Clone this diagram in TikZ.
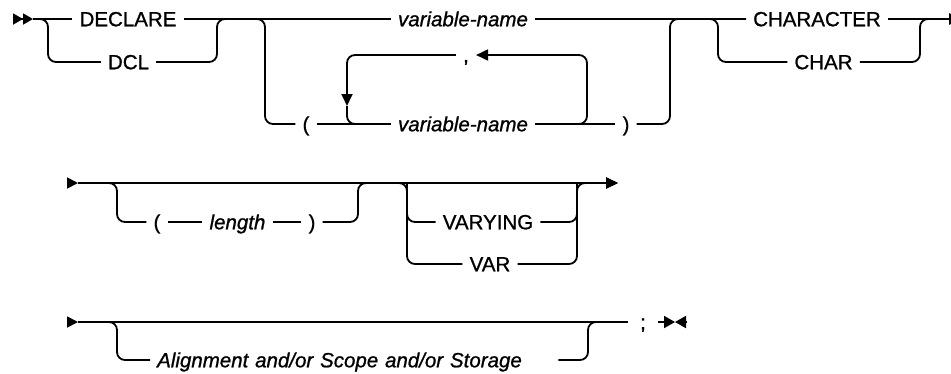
\documentclass[tikz,border=0pt]{standalone}
\usepackage{fontspec}
\setmainfont{Liberation Sans}
\usetikzlibrary{arrows.meta}
\tikzset{
  word/.style={inner xsep=7pt,inner ysep=0pt,text height=14.5pt,text depth=0pt,
    font=\fontsize{20.5}{24}\selectfont\addfontfeatures{FakeBold=1}},
  varname/.style={word,font=\fontsize{20.5}{24}\selectfont\itshape\addfontfeatures{FakeBold=1}},
  rail/.style={line width=1.8pt,rounded corners=8pt},
  tip/.style={-{Triangle[length=12pt,width=11pt]}},
  starttip/.style={-{Triangle[length=11pt,width=11pt]}}
}

\begin{document}
\begin{tikzpicture}[x=1pt,y=-1pt]
  \useasboundingbox (0,0) rectangle (951,373);
  % row 1
  \coordinate (r1a) at (13,19);
  \coordinate (r1s) at (33,19);
  \coordinate (sp1) at (48,19);
  \coordinate (mg1) at (217,19);
  \coordinate (sp2) at (265,19);
  \coordinate (mg2) at (670,19);
  \coordinate (sp3) at (718,19);
  \coordinate (mg3) at (920,19);
  \coordinate (r1e) at (961,19);
  \coordinate (lpA) at (347,106);
  \coordinate (lpR) at (587,124);
  \node[word] (declare) at (128,19) {DECLARE};
  \node[word] (dcl) at (128.5,62) {DCL};
  \node[varname] (vartop) at (463,19) {variable-name};
  \node[word] (lpar1) at (306,124) {(};
  \node[varname] (varbot) at (463,124) {variable-name};
  \node[word] (rpar1) at (626,124) {)};
  \node[word] (comma) at (466,55) {,};
  \node[word] (character) at (817,19) {CHARACTER};
  \node[word] (char) at (823.5,62) {CHAR};
  \draw[rail,-{Triangle[length=10pt,width=11pt]Triangle[length=10pt,width=11pt]}] (r1a) -- (r1s);
  \draw[rail] (r1s) -- (declare) -- (vartop) -- (character);
  \draw[rail,tip] (character) -- (r1e);
  \draw[rail] (r1s) -- (sp1) |- (dcl);
  \draw[rail] (dcl) -| (mg1) -- (vartop);
  \draw[rail] (mg1) -- (sp2) |- (lpar1);
  \draw[rail] (lpar1) -- (varbot) -- (rpar1);
  \draw[rail] (rpar1) -| (mg2) -- (character);
  \draw[rail,tip] (varbot) -- (lpR) |- (comma);
  \draw[rail,tip] (comma) -| (lpA);
  \draw[rail] (lpA) |- (varbot);
  \draw[rail] (mg2) -- (sp3) |- (char);
  \draw[rail,tip] (char) -| (mg3) -- (r1e);
  % row 2
  \coordinate (r2a) at (67,183);
  \coordinate (r2s) at (78,183);
  \coordinate (sp4) at (117,183);
  \coordinate (mg4) at (358,183);
  \coordinate (sp5) at (407,183);
  \coordinate (mg5) at (577,183);
  \coordinate (r2e) at (618,183);
  \node[word] (lpar2) at (157,222) {(};
  \node[varname] (length) at (237.5,222) {length};
  \node[word] (rpar2) at (312,222) {)};
  \node[word] (varying) at (488,222) {VARYING};
  \node[word] (var) at (490,264) {VAR};
  \draw[rail,starttip] (r2a) -- (r2s);
  \draw[rail,tip] (r2s) -- (r2e);
  \draw[rail] (r2s) -- (sp4) |- (lpar2);
  \draw[rail] (lpar2) -- (length) -- (rpar2);
  \draw[rail] (rpar2) -| (mg4) -- (sp5) |- (var);
  \draw[rail] (sp5) |- (varying);
  \draw[rail] (varying) -| (mg5);
  \draw[rail,tip] (var) -| (mg5) -- (r2e);
  % row 3
  \coordinate (r3a) at (67,322);
  \coordinate (r3s) at (78,322);
  \coordinate (sp6) at (117,322);
  \coordinate (mg6) at (588,322);
  \coordinate (bow) at (675,322);
  \coordinate (bowR) at (686,322);
  \node[varname,anchor=west,text width=394pt,align=left] (align) at (150,360) {Alignment and/or Scope and/or Storage};
  \node[word,inner xsep=12pt] (semi) at (643,322) {;};
  \draw[rail,starttip] (r3a) -- (r3s);
  \draw[rail] (r3s) -- (semi);
  \draw[rail] (r3s) -- (sp6) |- (align);
  \draw[rail] (align) -| (mg6) -- (semi);
  \draw[rail,-{Triangle[length=11pt,width=12pt]}] (semi) -- (bow);
  \draw[rail,-{Triangle[length=11pt,width=12pt]}] (bowR) -- (bow);
\end{tikzpicture}
\end{document}
